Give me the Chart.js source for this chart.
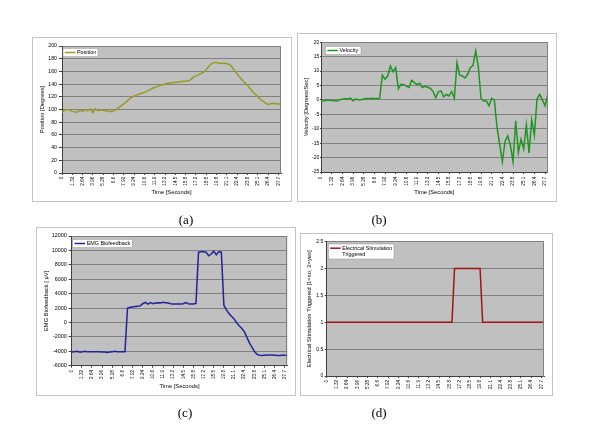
<!DOCTYPE html>
<html>
<head>
<meta charset="utf-8">
<title>Biofeedback session</title>
<script src="https://cdn.jsdelivr.net/npm/chart.js@4.4.1/dist/chart.umd.min.js"></script>
<style>
  html, body { margin: 0; padding: 0; background: #fff; }
  body { position: relative; width: 600px; height: 437px; overflow: hidden; }
  .frame { position: absolute; box-sizing: border-box; border: 1px solid #c4c4c4; background: #fff; }
  canvas { position: absolute; }
  .caption { position: absolute; width: 40px; margin-left: -20px; margin-top: -8px; text-align: center; color: #000;
             font: 13px "Liberation Serif", "Times New Roman", serif; line-height: 16px; will-change: transform; }
</style>
</head>
<body>
<div class="caption" style="left:186px;top:220px">(a)</div>
<div class="caption" style="left:379px;top:220px">(b)</div>
<div class="caption" style="left:185px;top:413px">(c)</div>
<div class="caption" style="left:379px;top:413px">(d)</div>

<script>
// time axis: one label every 4 samples (0.33 s per sample)
const tickLabels = ['0', '1.32', '2.64', '3.96', '5.28', '6.6', '7.92', '9.24', '10.6', '11.9', '13.2',
                    '14.5', '15.8', '17.2', '18.5', '19.8', '21.1', '22.4', '23.8', '25.1', '26.4', '27.7'];
const samplesPerTick = 4;

// Position [Degrees]
const position = [95, 99, 100, 99, 97, 96, 96, 99, 97, 100,
                  98, 101, 95, 101, 98, 99, 99, 98, 97, 97,
                  98, 100, 103, 106, 109, 112, 116, 119, 121, 123,
                  124, 126, 127, 129, 131, 133, 135, 136, 138, 139,
                  140, 141, 142, 142, 143, 143, 144, 144, 145, 145,
                  147, 151, 153, 155, 157, 159, 163, 168, 172, 174,
                  174, 173, 173, 173, 172, 171, 167, 161, 156, 151,
                  146, 142, 138, 133, 128, 124, 120, 116, 113, 110,
                  108, 109, 110, 109, 109, 108];

// Velocity [Degrees/Sec]
const velocity = [-0.4, -0.3, -0.1, 0, -0.2, -0.3, -0.4, 0.1, 0.2, 0.5,
                  0.3, 0.6, -0.3, 0.3, 0.1, 0.1, 0.3, 0.5, 0.4, 0.6,
                  0.5, 0.5, 0.6, 8.6, 7.2, 8.3, 11.8, 9.8, 11.2, 3.9,
                  5.4, 5.3, 4.8, 4.3, 6.8, 6.0, 5.3, 5.8, 4.3, 4.7,
                  4.4, 4.0, 3.0, 0.8, 2.8, 3.1, 1.1, 1.9, 1.4, 2.9,
                  0.6, 12.9, 8.6, 8.3, 7.6, 8.9, 11.2, 12.0, 17.0, 11.5,
                  0.5, -0.4, -0.4, -2.0, 0.5, -0.1, -9.5, -15.5, -21.4, -14.5,
                  -12.4, -15.7, -21.4, -7.2, -18.2, -13.6, -17.0, -8.7, -18.4, -6.9,
                  -12.2, 0.3, 1.9, 0, -2.0, 1.7];

// EMG Biofeedback [µV]
const emg = [-4100, -4050, -4000, -4100, -4100, -4000, -4050, -4050, -4050, -4050,
             -4050, -4050, -4100, -4100, -4150, -4100, -4050, -4000, -4050, -4050,
             -4050, -4050, 2000, 2100, 2150, 2200, 2250, 2300, 2600, 2800,
             2550, 2750, 2600, 2700, 2750, 2700, 2800, 2750, 2700, 2600,
             2550, 2550, 2550, 2550, 2600, 2750, 2600, 2550, 2550, 2650,
             9750, 9800, 9800, 9750, 9250, 9500, 9900, 9400, 9800, 9750,
             2400, 1750, 1250, 850, 500, 0, -450, -800, -1250, -2000,
             -2800, -3400, -4000, -4400, -4550, -4600, -4550, -4500, -4500, -4500,
             -4550, -4600, -4600, -4550, -4550, -4550];

// Electrical stimulation triggered [1=no, 2=yes]
const stimulation = [1, 1, 1, 1, 1, 1, 1, 1, 1, 1,
                     1, 1, 1, 1, 1, 1, 1, 1, 1, 1,
                     1, 1, 1, 1, 1, 1, 1, 1, 1, 1,
                     1, 1, 1, 1, 1, 1, 1, 1, 1, 1,
                     1, 1, 1, 1, 1, 1, 1, 1, 1, 1,
                     2, 2, 2, 2, 2, 2, 2, 2, 2, 2,
                     2, 1, 1, 1, 1, 1, 1, 1, 1, 1,
                     1, 1, 1, 1, 1, 1, 1, 1, 1, 1,
                     1, 1, 1, 1, 1, 1];

const timeLabels = position.map((_, i) =>
    i % samplesPerTick === 0 ? (tickLabels[i / samplesPerTick] || '') : '');

Chart.defaults.font.family = '"Liberation Sans", Arial, sans-serif';
Chart.defaults.color = '#000';

// grey plot area, plot border and the small legend box inside the plot
const panelPlugin = {
    id: 'panel',
    beforeDraw(chart) {
        const { ctx, chartArea: a } = chart;
        ctx.save();
        ctx.fillStyle = '#c0c0c0';
        ctx.fillRect(a.left, a.top, a.right - a.left, a.bottom - a.top);
        ctx.restore();
    },
    afterDatasetsDraw(chart, args, opts) {
        const { ctx, chartArea: a } = chart;
        const lg = opts.legend;
        const ds = chart.data.datasets[0];
        ctx.save();
        ctx.strokeStyle = '#808080';
        ctx.lineWidth = 1;
        ctx.strokeRect(Math.round(a.right) - 0.5, Math.round(a.top) + 0.5, 0, a.bottom - a.top);

        const x = a.left + lg.dx, y = a.top + lg.dy;
        ctx.fillStyle = '#fff';
        ctx.fillRect(x, y, lg.w, lg.h);
        ctx.strokeStyle = '#909090';
        ctx.lineWidth = 0.5;
        ctx.strokeRect(x, y, lg.w, lg.h);
        const ly = y + 4.2;
        ctx.strokeStyle = ds.borderColor;
        ctx.lineWidth = 1.5;
        ctx.beginPath();
        ctx.moveTo(x + 1.8, ly);
        ctx.lineTo(x + 12.3, ly);
        ctx.stroke();
        ctx.fillStyle = '#000';
        ctx.font = '5.4px "Liberation Sans", Arial, sans-serif';
        ctx.textBaseline = 'middle';
        lg.text.forEach((t, i) => ctx.fillText(t, x + 14, ly + i * 6));
        ctx.restore();
    }
};

function buildChart(p) {
    const f = p.frame;
    const frame = document.createElement('div');
    frame.className = 'frame';
    Object.assign(frame.style, { left: f.x + 'px', top: f.y + 'px', width: f.w + 'px', height: f.h + 'px' });
    document.body.appendChild(frame);

    const canvas = document.createElement('canvas');
    canvas.width = f.w;
    canvas.height = f.h;
    Object.assign(canvas.style, { left: f.x + 'px', top: f.y + 'px', width: f.w + 'px', height: f.h + 'px' });
    document.body.appendChild(canvas);

    const yWidth = p.plot.l - f.x;
    const xHeight = f.y + f.h - p.plot.b;
    const titleFont = { size: 5.8, lineHeight: 1.2 };
    const half = 5.8 * 1.2 / 2;

    new Chart(canvas.getContext('2d'), {
        type: 'line',
        data: {
            labels: timeLabels,
            datasets: [{
                label: p.label,
                data: p.values,
                borderColor: p.color,
                borderWidth: 1.5,
                pointRadius: 0,
                tension: 0,
                fill: false
            }]
        },
        options: {
            responsive: false,
            animation: false,
            devicePixelRatio: 1,
            events: [],
            layout: { padding: { left: 0, bottom: 0, top: p.plot.t - f.y, right: f.x + f.w - p.plot.r } },
            scales: {
                x: {
                    ticks: {
                        autoSkip: false, maxRotation: 90, minRotation: 90,
                        font: { size: 4.6 }, padding: p.xTickGap - 2,
                        callback(v) { return this.getLabelForValue(v); }
                    },
                    grid: {
                        drawOnChartArea: false, tickLength: 2,
                        tickColor: c => c.index % samplesPerTick === 0 ? '#404040' : 'rgba(0,0,0,0)'
                    },
                    border: { color: '#404040' },
                    title: {
                        display: !!p.xTitle, text: p.xTitle || '', font: titleFont,
                        padding: { top: 0, bottom: p.xTitle ? f.y + f.h - p.xTitleY - half : 0 }
                    },
                    afterFit(s) { s.height = xHeight; }
                },
                y: {
                    min: p.yMin, max: p.yMax,
                    ticks: { stepSize: p.yStep, font: { size: p.tickSize }, padding: p.yTickPad, callback: v => String(v) },
                    grid: { color: '#808080', tickColor: '#404040', tickLength: p.yTickLen },
                    border: { color: '#404040' },
                    title: {
                        display: true, text: p.yTitle, font: titleFont,
                        padding: { top: p.yTitleX - f.x - half, bottom: 0 }
                    },
                    afterFit(s) { s.width = yWidth; }
                }
            },
            plugins: {
                legend: { display: false },
                tooltip: { enabled: false },
                panel: { legend: p.legend }
            }
        },
        plugins: [panelPlugin]
    });
}

buildChart({
    frame: { x: 32, y: 37, w: 260, h: 165 },
    plot: { l: 62, t: 46, r: 281, b: 173 },
    label: 'Position', values: position, color: '#999926',
    yTitle: 'Position [Degrees]', yTitleX: 42, xTitle: 'Time [Seconds]', xTitleY: 192.7,
    yMin: 0, yMax: 200, yStep: 20, tickSize: 5.2, yTickLen: 3, yTickPad: 2, xTickGap: 3.7,
    legend: { dx: 1, dy: 2.3, w: 35, h: 8.4, text: ['Position'] }
});

buildChart({
    frame: { x: 297, y: 33, w: 260, h: 169 },
    plot: { l: 321, t: 42.3, r: 547.7, b: 172 },
    label: 'Velocity', values: velocity, color: '#1f961f',
    yTitle: 'Velocity [Degrees/Sec]', yTitleX: 306, xTitle: 'Time [Seconds]', xTitleY: 192.7,
    yMin: -25, yMax: 20, yStep: 5, tickSize: 5, yTickLen: 1, yTickPad: 0.8, xTickGap: 4.7,
    legend: { dx: 4.5, dy: 4, w: 35.5, h: 8.4, text: ['Velocity'] }
});

buildChart({
    frame: { x: 36, y: 227, w: 260, h: 169 },
    plot: { l: 71.7, t: 236, r: 287.3, b: 365.7 },
    label: 'EMG Biofeedback', values: emg, color: '#22229a',
    yTitle: 'EMG Biofeedback [ µV]', yTitleX: 46.7, xTitle: 'Time [Seconds]', xTitleY: 386.7,
    yMin: -6000, yMax: 12000, yStep: 2000, tickSize: 5.4, yTickLen: 3, yTickPad: 2, xTickGap: 4.3,
    legend: { dx: 1, dy: 3.3, w: 59.6, h: 8.4, text: ['EMG Biofeedback'] }
});

buildChart({
    frame: { x: 300, y: 233, w: 253, h: 163 },
    plot: { l: 326.7, t: 241.7, r: 544, b: 376 },
    label: 'Electrical Stimulation Triggered', values: stimulation, color: '#a01414',
    yTitle: 'Electrical Stimulation Triggered [1=no, 2=yes]', yTitleX: 309.3, xTitle: null, xTitleY: 0,
    yMin: 0, yMax: 2.5, yStep: 0.5, tickSize: 5, yTickLen: 2, yTickPad: 1.4, xTickGap: 4,
    legend: { dx: 1.6, dy: 2.3, w: 65.7, h: 15, text: ['Electrical Stimulation', 'Triggered'] }
});
</script>
</body>
</html>
